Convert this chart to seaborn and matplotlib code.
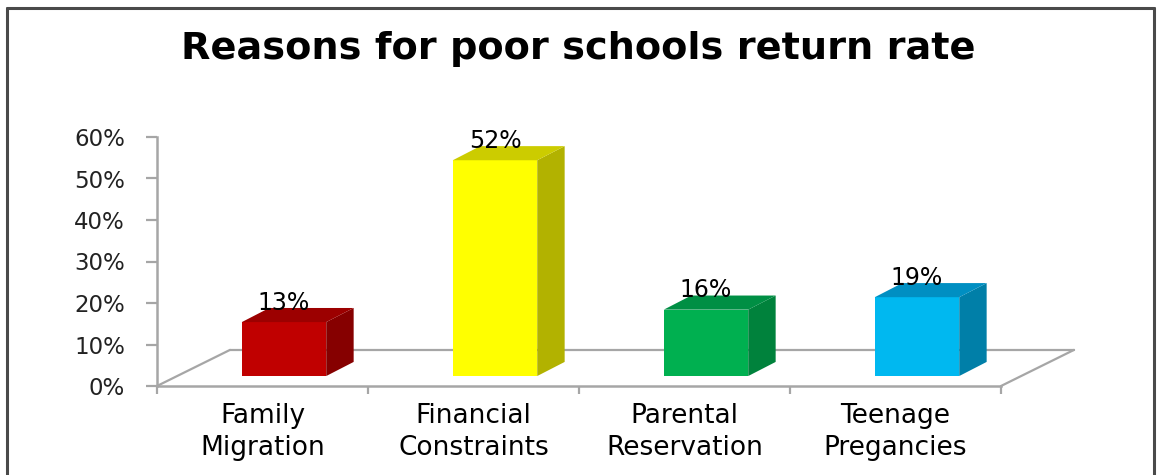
import matplotlib
matplotlib.use("Agg")
import matplotlib.pyplot as plt
from matplotlib.patches import Polygon
from matplotlib.lines import Line2D
import seaborn as sns

# Data
categories = ["Family\nMigration", "Financial\nConstraints",
              "Parental\nReservation", "Teenage\nPregancies"]
values = [13, 52, 16, 19]
y_ticks = [0, 10, 20, 30, 40, 50, 60]
y_tick_labels = ["0%", "10%", "20%", "30%", "40%", "50%", "60%"]

# Face colours for the pseudo-3D columns: front, side, top
front_colors = ["#C00000", "#FFFF00", "#00B050", "#00B8F0"]
side_colors = ["#860000", "#B2B200", "#00823C", "#007FA8"]
top_colors = ["#9C0000", "#CCCC00", "#008F44", "#008FC2"]

# Perspective geometry (category units / percent units)
FLOOR_DX, FLOOR_DY = 0.346, 8.7     # depth of the floor
BAR_OFF_X, BAR_OFF_Y = 0.102, 2.4   # where the column front sits on the floor
BAR_DX, BAR_DY = 0.13, 3.4          # column depth
GRID_GREY = "#A6A6A6"

sns.set_style("white")
plt.rcParams["font.family"] = ["DejaVu Sans"]

W, H = 1157, 475
fig = plt.figure(figsize=(W / 100, H / 100), dpi=100)
ax = fig.add_axes([157 / W, (H - 386) / H, 918 / W, (386 - 137) / H])

sns.barplot(x=categories, y=values, hue=categories, palette=front_colors,
            width=0.4, legend=False, ax=ax, zorder=3, saturation=1,
            linewidth=0)

ax.set_xlim(-0.5, -0.5 + 918 / 211)
ax.set_ylim(0, 60)

# Floor outline
n = len(categories)
x_left, x_right = -0.5, n - 0.5
for xs, ys in [
    ([x_left + FLOOR_DX, x_right + FLOOR_DX], [FLOOR_DY, FLOOR_DY]),
    ([x_left, x_left + FLOOR_DX], [0, FLOOR_DY]),
    ([x_right, x_right + FLOOR_DX], [0, FLOOR_DY]),
]:
    ax.plot(xs, ys, color=GRID_GREY, lw=1.6, zorder=1, clip_on=False)

# Columns: move fronts back onto the floor, then add side and top faces
for i, (patch, v) in enumerate(zip(ax.patches, values)):
    patch.set_x(patch.get_x() + BAR_OFF_X)
    patch.set_y(patch.get_y() + BAR_OFF_Y)
    x0, y0 = patch.get_x(), patch.get_y()
    w, h = patch.get_width(), patch.get_height()
    side = Polygon([(x0 + w, y0), (x0 + w + BAR_DX, y0 + BAR_DY),
                    (x0 + w + BAR_DX, y0 + h + BAR_DY), (x0 + w, y0 + h)],
                   closed=True, facecolor=side_colors[i], edgecolor="none",
                   zorder=3)
    top = Polygon([(x0, y0 + h), (x0 + BAR_DX, y0 + h + BAR_DY),
                   (x0 + w + BAR_DX, y0 + h + BAR_DY), (x0 + w, y0 + h)],
                  closed=True, facecolor=top_colors[i], edgecolor="none",
                  zorder=3)
    ax.add_patch(side)
    ax.add_patch(top)
    ax.text(x0 + w / 2, y0 + h + BAR_DY - 0.4, f"{v}%", ha="center",
            va="baseline", fontsize=17, color="black", zorder=5)

# Axes styling
for s in ["top", "right"]:
    ax.spines[s].set_visible(False)
ax.spines["left"].set_bounds(0, 60)
ax.spines["bottom"].set_bounds(x_left, x_right)
for s in ["left", "bottom"]:
    ax.spines[s].set_color(GRID_GREY)
    ax.spines[s].set_linewidth(1.8)

ax.set_yticks(y_ticks)
ax.set_yticklabels(y_tick_labels)
ax.tick_params(axis="y", left=True, length=8, width=1.6, color=GRID_GREY,
               pad=15, labelsize=16.5, labelcolor="#222222")
ax.set_xticks(range(n))
ax.set_xticklabels(categories, linespacing=1.3)
ax.tick_params(axis="x", which="major", length=0, pad=12, labelsize=19,
               labelcolor="black")
ax.set_xticks([i - 0.5 for i in range(n + 1)], minor=True)
ax.tick_params(axis="x", which="minor", bottom=True, length=6, width=1.6,
               color=GRID_GREY)
ax.set_xlabel("")
ax.set_ylabel("")

# Title
fig.text(0.5, 1 - 49 / H, "Reasons for poor schools return rate",
         ha="center", va="center", fontsize=27.5, fontweight="bold",
         color="black")

# Outer frame
frame_kw = dict(color="#4A4A4A", lw=2.2, transform=fig.transFigure)
fig.add_artist(Line2D([7 / W, 7 / W], [0, 1 - 8 / H], **frame_kw))
fig.add_artist(Line2D([1154 / W, 1154 / W], [0, 1 - 8 / H], **frame_kw))
fig.add_artist(Line2D([7 / W, 1154 / W], [1 - 8 / H, 1 - 8 / H], **frame_kw))

fig.savefig("out.png", dpi=100)
